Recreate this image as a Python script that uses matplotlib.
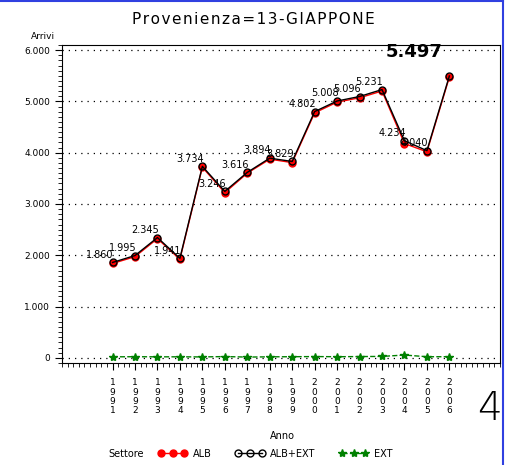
import numpy as np
import matplotlib.pyplot as plt
from matplotlib.lines import Line2D
from matplotlib.ticker import MultipleLocator, FuncFormatter

# data
anni = list(range(1991, 2007))
alb_ext = [1860, 1995, 2345, 1941, 3734, 3246, 3616, 3894, 3829, 4802,
           5008, 5096, 5231, 4234, 4040, 5497]
ext = [20, 22, 20, 20, 18, 25, 15, 20, 22, 25, 22, 25, 28, 55, 22, 22]
alb = [t - e for t, e in zip(alb_ext, ext)]

fnt = 'DejaVu Sans'

fig = plt.figure(figsize=(5.07, 4.65), dpi=100)
ax = fig.add_axes([0.1223, 0.2194, 0.8637, 0.6838])

ax.plot(anni, alb, color='red', marker='o', ms=5, lw=1, mec='red', mfc='red')
ax.plot(anni, alb_ext, color='black', marker='o', ms=5, lw=1, mfc='none', mec='black')
ax.plot(anni, ext, color='green', marker='*', ms=6, lw=1, ls='--')

for x, y in zip(anni[:-1], alb_ext[:-1]):
    lab = f'{y:,}'.replace(',', '.')
    ax.annotate(lab, (x, y), xytext=(1, 2), textcoords='offset points',
                ha='right', va='bottom', fontsize=7, family=fnt)
ax.annotate(f'{alb_ext[-1]:,}'.replace(',', '.'), (anni[-1], 5780),
            xytext=(-5, 0), textcoords='offset points', ha='right', va='bottom',
            fontsize=13, fontweight='bold', family=fnt)

ax.set_xlim(1988.75, 2008.25)
ax.set_ylim(-100, 6100)
ax.set_xticks(anni)
ax.set_xticklabels(['\n'.join(str(a)) for a in anni], family=fnt, fontsize=6.5,
                   linespacing=1.05)
ax.xaxis.set_minor_locator(MultipleLocator(0.25))
ax.set_yticks(range(0, 6001, 1000))
ax.yaxis.set_major_formatter(FuncFormatter(lambda v, p: f'{int(v):,}'.replace(',', '.')))
ax.yaxis.set_minor_locator(MultipleLocator(100))
ax.tick_params(axis='both', which='major', length=5, width=0.8, labelsize=6.5)
ax.tick_params(axis='both', which='minor', length=3, width=0.6)
ax.tick_params(axis='x', which='both', pad=6)
ax.grid(axis='y', which='major', ls=(0, (1, 4)), color='black', lw=0.9)

title = '\u200a'.join('Provenienza=13-GIAPPONE')
fig.text(0.50, 0.958, title, ha='center', va='center', fontsize=11, family=fnt)
fig.text(0.085, 0.912, 'Arrivi', ha='center', va='bottom', fontsize=6.5, family=fnt)
fig.text(0.558, 0.063, 'Anno', ha='center', va='center', fontsize=7, family=fnt)
fig.text(0.965, 0.12, '4', ha='center', va='center', fontsize=28, family=fnt,
         fontweight='light')

fig.text(0.213, 0.024, 'Settore', ha='left', va='center', fontsize=7, family=fnt)
handles = [
    Line2D([], [], color='red', marker='o', ms=5, mfc='red', lw=1),
    Line2D([], [], color='black', marker='o', ms=5, mfc='none', lw=1),
    Line2D([], [], color='green', marker='*', ms=6, lw=1, ls='--'),
]
fig.legend(handles, ['ALB', 'ALB+EXT', 'EXT'], loc='center left',
           bbox_to_anchor=(0.312, 0.024), ncol=3, frameon=False, numpoints=3,
           handlelength=3.0, handletextpad=0.6, columnspacing=2.4, borderpad=0,
           borderaxespad=0, prop={'family': fnt, 'size': 7})

# blue frame of the page
fig.add_artist(Line2D([0, 0.993], [0.997, 0.997], color='#3040e0', lw=1.5))
fig.add_artist(Line2D([0.993, 0.993], [0, 0.997], color='#3040e0', lw=1.5))

plt.savefig('out.png', dpi=100)
